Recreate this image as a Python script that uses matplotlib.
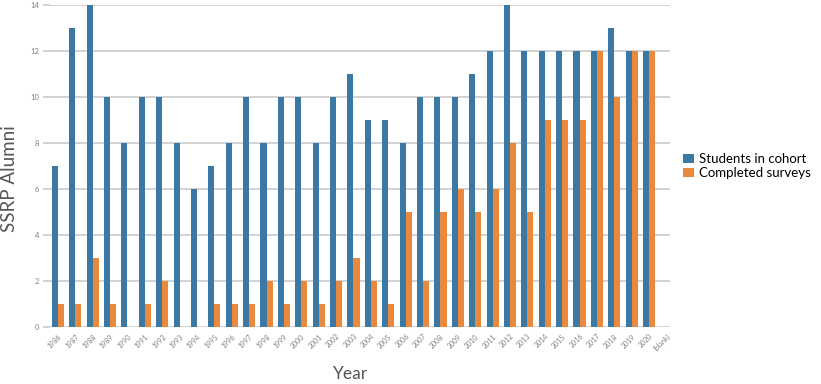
import numpy as np
import matplotlib.pyplot as plt

plt.rcParams['font.family'] = ['Lato', 'DejaVu Sans']

years = ['1986', '1987', '1988', '1989', '1990', '1991', '1992', '1993', '1994',
         '1995', '1996', '1997', '1998', '1999', '2000', '2001', '2002', '2003',
         '2004', '2005', '2006', '2007', '2008', '2009', '2010', '2011', '2012',
         '2013', '2014', '2015', '2016', '2017', '2018', '2019', '2020', '(blank)']
students = [7, 13, 14, 10, 8, 10, 10, 8, 6, 7, 8, 10, 8, 10, 10, 8, 10, 11,
            9, 9, 8, 10, 10, 10, 11, 12, 14, 12, 12, 12, 12, 12, 13, 12, 12, 0]
surveys = [1, 1, 3, 1, 0, 1, 2, 0, 0, 1, 1, 1, 2, 1, 2, 1, 2, 3,
           2, 1, 5, 2, 5, 6, 5, 6, 8, 5, 9, 9, 9, 12, 10, 12, 12, 0]

blue = '#3b78a3'
orange = '#e8893d'
grid = '#cccccc'

fig = plt.figure(figsize=(8.21, 3.84), dpi=100)
ax = fig.add_axes([0.061, 0.148, 0.755, 0.839])

x = np.arange(len(years))
w = 0.35
ax.bar(x - w / 2, students, w, color=blue, label='Students in cohort', zorder=3)
ax.bar(x + w / 2, surveys, w, color=orange, label='Completed surveys', zorder=3)

ax.set_ylim(0, 14)
ax.set_xlim(-0.45, 35.2)
ax.set_yticks(range(0, 15, 2))
ax.yaxis.grid(True, color=grid, linewidth=1.2, zorder=0)
for s in ax.spines.values():
    s.set_visible(False)

ax.set_xticks(x)
ax.set_xticklabels(years, rotation=45, ha='right', rotation_mode='anchor',
                   fontsize=5, color='#808080')
ax.tick_params(axis='x', length=0, pad=4)
ax.tick_params(axis='y', length=5, color=grid, width=1.2, labelsize=5.5,
               labelcolor='#808080', pad=3)

ax.set_ylabel('SSRP Alumni', fontsize=13.5, color='#555555')
ax.yaxis.set_label_coords(-0.052, 0.46)
ax.set_xlabel('Year', fontsize=12.5, color='#555555')
ax.xaxis.set_label_coords(0.484, -0.122)

ax.legend(loc='center left', bbox_to_anchor=(1.0, 0.5), frameon=False,
          fontsize=9.5, handlelength=0.8, handleheight=0.7, handletextpad=0.4,
          labelspacing=0.1, borderaxespad=0.6)

fig.savefig('out.png', dpi=100)
